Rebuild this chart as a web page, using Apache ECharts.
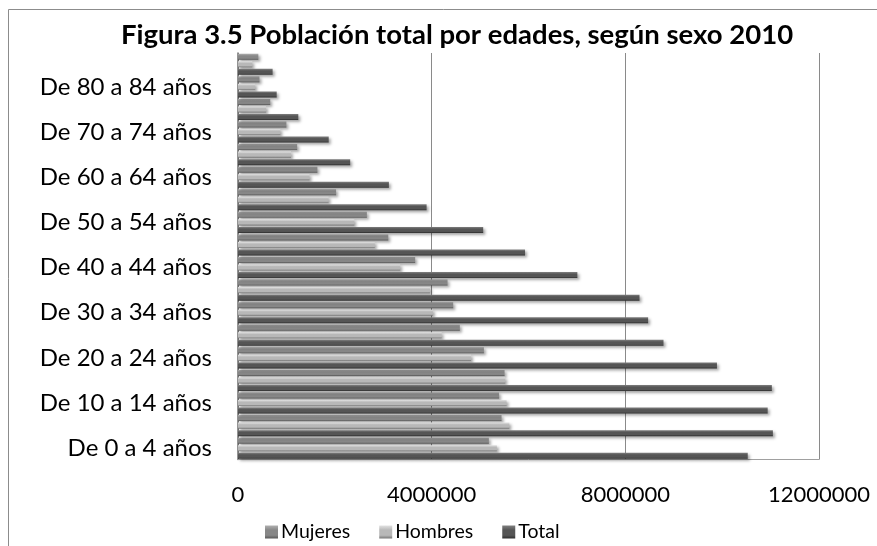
<!DOCTYPE html>
<html>
<head>
    <meta charset="utf-8">
    <title>Figura 3.5</title>
    <script type="text/javascript" src="https://cdn.jsdelivr.net/npm/echarts@6/dist/echarts.min.js"></script>
    <style>
        html, body { margin: 0; padding: 0; background: #fff; }
        #main { width: 877px; height: 546px; }
    </style>
</head>
<body>
    <div id="main"></div>
    <script type="text/javascript">
        // age groups, bottom to top
        var edades = [
            'De 0 a 4 años', 'De 5 a 9 años', 'De 10 a 14 años', 'De 15 a 19 años',
            'De 20 a 24 años', 'De 25 a 29 años', 'De 30 a 34 años', 'De 35 a 39 años',
            'De 40 a 44 años', 'De 45 a 49 años', 'De 50 a 54 años', 'De 55 a 59 años',
            'De 60 a 64 años', 'De 65 a 69 años', 'De 70 a 74 años', 'De 75 a 79 años',
            'De 80 a 84 años', 'De 85 años y más'
        ];
        var mujeres = [5181379, 5443362, 5392324, 5505991, 5079067, 4582202, 4444767, 4328249,
            3658904, 3104057, 2661850, 2025828, 1639799, 1221992, 999623, 665794, 443826, 420000];
        var hombres = [5346943, 5604175, 5547613, 5520121, 4813204, 4205975, 4026031, 3964738,
            3350322, 2824673, 2402351, 1869537, 1476667, 1095273, 873893, 579689, 355277, 295000];
        var total = [10528322, 11047537, 10939937, 11026112, 9892271, 8788177, 8470798, 8292987,
            7009226, 5928730, 5064201, 3895365, 3116466, 2317265, 1873516, 1245483, 799103, 715000];
        var xTicks = [0, 4000000, 8000000, 12000000];

        var FONT = 'Lato, "Open Sans", sans-serif';

        // beveled gray fill like the office chart
        function bevel(light, mid, dark) {
            return new echarts.graphic.LinearGradient(0, 0, 0, 1, [
                { offset: 0, color: light },
                { offset: 0.35, color: mid },
                { offset: 0.75, color: mid },
                { offset: 1, color: dark }
            ]);
        }

        function barSeries(name, data, fill) {
            return {
                name: name,
                type: 'bar',
                data: data,
                barGap: '25%',
                barCategoryGap: '6.6%',
                itemStyle: {
                    color: fill,
                    shadowColor: 'rgba(0,0,0,0.35)',
                    shadowBlur: 3,
                    shadowOffsetX: 2,
                    shadowOffsetY: 2
                }
            };
        }

        var option = {
            animation: false,
            backgroundColor: '#fff',
            textStyle: { fontFamily: FONT },
            title: {
                text: 'Figura 3.5 Población total por edades, según sexo 2010',
                left: 452,
                textAlign: 'center',
                top: 16,
                textStyle: { fontFamily: FONT, fontWeight: 'bold', fontSize: 27.5, color: '#000' }
            },
            graphic: [{
                type: 'rect',
                shape: { x: 8.5, y: 9.5, width: 900, height: 600 },
                style: { fill: 'none', stroke: '#8c8c8c', lineWidth: 1 },
                silent: true
            }],
            legend: {
                data: ['Mujeres', 'Hombres', 'Total'],
                left: 260,
                top: 517,
                icon: 'rect',
                itemWidth: 13,
                itemHeight: 13,
                itemGap: 29,
                textStyle: { fontFamily: FONT, fontSize: 19.5, color: '#000', padding: [0, 0, 0, -2] }
            },
            grid: { left: 238, right: 58, top: 53, bottom: 86.5 },
            xAxis: {
                type: 'value',
                min: xTicks[0],
                max: xTicks[xTicks.length - 1],
                interval: xTicks[1] - xTicks[0],
                axisLine: { show: true, lineStyle: { color: '#a0a0a0' } },
                axisTick: { show: false },
                splitLine: { show: true, lineStyle: { color: '#8a8a8a', width: 1 } },
                axisLabel: {
                    fontFamily: FONT, fontSize: 22, color: '#000', margin: 24,
                    formatter: function (v) { return String(v); }
                }
            },
            yAxis: {
                type: 'category',
                data: edades,
                axisLine: { show: true, lineStyle: { color: '#707070', width: 1.5 } },
                axisTick: { show: false },
                axisLabel: { interval: 1, fontFamily: FONT, fontSize: 24, color: '#000', margin: 26 }
            },
            series: [
                barSeries('Mujeres', mujeres, bevel('#b0b0b0', '#878787', '#575757')),
                barSeries('Hombres', hombres, bevel('#e2e2e2', '#b8b8b8', '#777777')),
                barSeries('Total', total, bevel('#808080', '#555555', '#2e2e2e'))
            ]
        };

        echarts.init(document.getElementById('main')).setOption(option);
    </script>
</body>
</html>
